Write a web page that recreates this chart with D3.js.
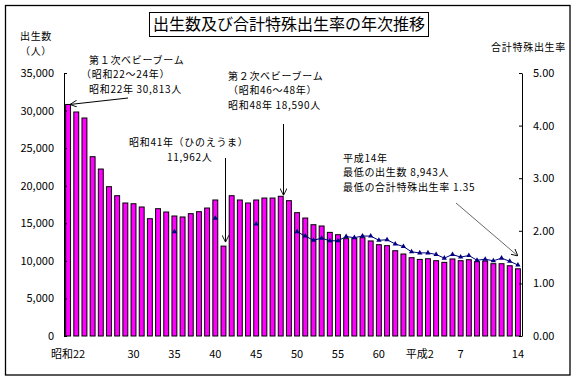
<!DOCTYPE html>
<html>
<head>
<meta charset="utf-8">
<script src="https://cdn.jsdelivr.net/npm/d3@7"></script>
<style>
  body { margin: 0; background: #fff; }
  svg text { font-family: "Noto Sans CJK JP", "Noto Sans", sans-serif; fill: #000; }
</style>
</head>
<body>
<svg id="chart" width="577" height="382"></svg>
<script>
// categories: 昭和22 (1947) .. 平成14 (2002)
const years = d3.range(22, 64).map(d => '昭和' + d).concat(d3.range(1, 15).map(d => '平成' + d));

// births (人)
const births = [
  30813, 29810, 29010, 23860, 22220, 19870, 18670, 17700, 17600, 17170,
  15610, 16940, 16500, 15970, 15840, 16280, 16540, 17030, 18100, 11962,
  18670, 18100, 17700, 18100, 18360, 18360, 18590, 18010, 16410, 15700,
  14810, 14640, 13790, 13480, 12950, 12990, 13080, 12650, 12150, 12020,
  11350, 10910, 10420, 10190, 10280, 10020, 9800, 10250, 10020, 10150,
  9890, 9980, 9620, 9620, 9350, 8943
];

// total fertility rate (null = no data)
const tfr = [
  null, null, null, null, null, null, null, null, null, null,
  null, null, null, 1.98, null, null, null, null, 2.24, null,
  null, null, null, 2.13, null, null, null, null, 1.98, 1.90,
  1.82, 1.86, 1.81, 1.81, 1.89, 1.87, 1.90, 1.90, 1.82, 1.83,
  1.75, 1.70, 1.60, 1.58, 1.58, 1.55, 1.48, 1.55, 1.50, 1.53,
  1.44, 1.46, 1.43, 1.48, 1.42, 1.35
];

const tickYears = ['昭和22', '昭和30', '昭和35', '昭和40', '昭和45', '昭和50', '昭和55', '昭和60', '平成2', '平成7', '平成14'];
const tickNames = ['昭和22', '30', '35', '40', '45', '50', '55', '60', '平成2', '7', '14'];

const leftTicks = [0, 5000, 10000, 15000, 20000, 25000, 30000, 35000];
const rightTicks = [0, 1, 2, 3, 4, 5];

const svg = d3.select('#chart');
const margin = { top: 73, bottom: 46, left: 64, right: 55 };
const width = 577, height = 382;

const x = d3.scaleBand()
  .domain(years)
  .range([margin.left, width - margin.right])
  .paddingInner(0.4)
  .paddingOuter(0.2);
const yL = d3.scaleLinear().domain([0, 35000]).range([height - margin.bottom, margin.top]);
const yR = d3.scaleLinear().domain([0, 5]).range([height - margin.bottom, margin.top]);

// outer frame
svg.append('rect')
  .attr('x', 5.5).attr('y', 5.5)
  .attr('width', 564.5).attr('height', 369.5)
  .attr('fill', 'none').attr('stroke', '#000').attr('stroke-width', 1.3);

// title
const title = svg.append('text')
  .attr('x', 289).attr('y', 30)
  .attr('text-anchor', 'middle')
  .style('font-size', '16px')
  .text('出生数及び合計特殊出生率の年次推移');
const tw = title.node().getComputedTextLength();
svg.insert('rect', 'text')
  .attr('x', 289 - tw / 2 - 3.5).attr('y', 12.5)
  .attr('width', tw + 7).attr('height', 24)
  .attr('fill', 'none').attr('stroke', '#000');

function label(lines, xPos, y0, step, anchor) {
  lines.forEach((t, i) => {
    svg.append('text').attr('x', xPos).attr('y', y0 + i * step)
      .attr('text-anchor', anchor || 'start')
      .style('font-size', '10px')
      .style('letter-spacing', '0.7px')
      .text(t);
  });
}

// axis titles
label(['出生数', '（人）'], 36, 40, 14.6, 'middle');
label(['合計特殊出生率'], 566, 51, 0, 'end');

// bars
svg.append('g').selectAll('rect')
  .data(births)
  .join('rect')
  .attr('x', (d, i) => x(years[i]))
  .attr('y', d => yL(d))
  .attr('width', x.bandwidth())
  .attr('height', d => yL(0) - yL(d))
  .attr('fill', '#ff00ff')
  .attr('stroke', '#000')
  .attr('stroke-width', 1);

// left axis
const gL = svg.append('g')
  .attr('transform', 'translate(' + margin.left + ',0)')
  .call(d3.axisLeft(yL).tickValues(leftTicks).tickFormat(d3.format(','))
    .tickSizeInner(-3).tickSizeOuter(0).tickPadding(10));
gL.selectAll('text').style('font-size', '11px').style('font-family', '"Noto Sans CJK JP", sans-serif');

// right axis
const gR = svg.append('g')
  .attr('transform', 'translate(' + (width - margin.right) + ',0)')
  .call(d3.axisRight(yR).tickValues(rightTicks).tickFormat(d3.format('.2f'))
    .tickSizeInner(-3).tickSizeOuter(0).tickPadding(11));
gR.selectAll('text').style('font-size', '11px').style('font-family', '"Noto Sans CJK JP", sans-serif');

// x labels
svg.append('g').selectAll('text')
  .data(tickYears)
  .join('text')
  .attr('x', d => x(d) + x.bandwidth() / 2)
  .attr('y', 358)
  .attr('text-anchor', 'middle')
  .style('font-size', '11px')
  .text((d, i) => tickNames[i]);

// TFR line
const pts = tfr.map((v, i) => ({ c: years[i], v: v }));
const line = d3.line()
  .defined(d => d.v != null)
  .x(d => x(d.c) + x.bandwidth() / 2)
  .y(d => yR(d.v));
svg.append('path')
  .datum(pts)
  .attr('d', line)
  .attr('fill', 'none')
  .attr('stroke', '#000080')
  .attr('stroke-width', 1);
svg.append('g').selectAll('path')
  .data(pts.filter(d => d.v != null))
  .join('path')
  .attr('transform', d => 'translate(' + (x(d.c) + x.bandwidth() / 2) + ',' + yR(d.v) + ')')
  .attr('d', d3.symbol(d3.symbolTriangle, 12))
  .attr('fill', '#000080');

// annotations
const defs = svg.append('defs');
defs.append('marker')
  .attr('id', 'ah').attr('viewBox', '0 0 10 10')
  .attr('refX', 10).attr('refY', 5)
  .attr('markerWidth', 7).attr('markerHeight', 7)
  .attr('markerUnits', 'userSpaceOnUse')
  .attr('orient', 'auto')
  .append('path').attr('d', 'M0,0 L10,5 L0,10')
  .attr('fill', 'none').attr('stroke', '#000').attr('stroke-width', 1.3);

function arrow(x1, y1, x2, y2, w) {
  svg.append('line')
    .attr('x1', x1).attr('y1', y1).attr('x2', x2).attr('y2', y2)
    .attr('stroke', '#000').attr('stroke-width', w)
    .attr('marker-end', 'url(#ah)');
}

label(['第１次ベビーブーム'], 89, 63.5, 0);
label(['（昭和22～24年）'], 81, 78.1, 0);
label(['昭和22年 30,813人'], 89, 92.7, 0);
arrow(128, 98, x('昭和22') + x.bandwidth() / 2 + 2, yL(births[0]), 1);

label(['第２次ベビーブーム', '（昭和46～48年）', '昭和48年 18,590人'], 228, 79.5, 14.6);
arrow(283.5, 124, 283.5, yL(births[26]) - 1, 1);

label(['昭和41年（ひのえうま）'], 129, 146, 0);
label(['11,962人'], 167, 161, 0);
arrow(225.5, 158, 225.5, yL(births[19]) - 4, 1);

label(['平成14年', '最低の出生数 8,943人', '最低の合計特殊出生率 1.35'], 343, 161.5, 14.6);
arrow(456, 203, x('平成14') + x.bandwidth() / 2, yR(tfr[55]) - 9, 0.6);
</script>
</body>
</html>
